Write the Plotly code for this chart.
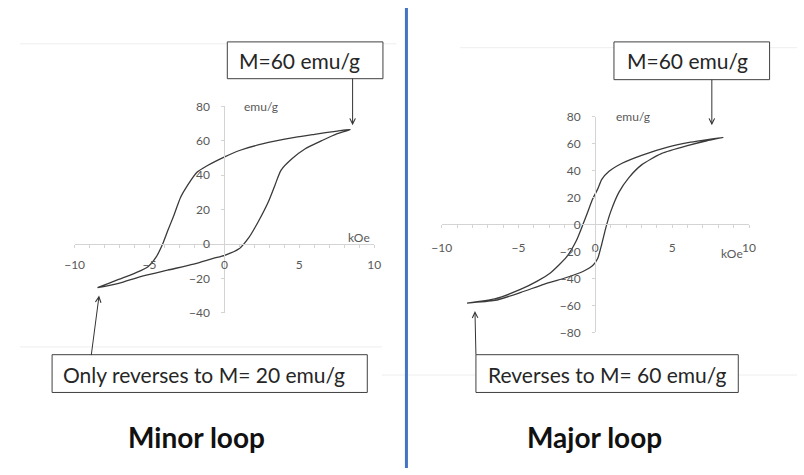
import plotly.graph_objects as go

W, H = 804, 475

# ---- data (H in kOe, M in emu/g) ----
# Minor loop: descending branch (+H_max -> -H_min), then ascending branch back
minor_desc_H = [8.41, 7.54, 6.02, 4.70, 2.53, 1.01, 0.02, -1.18, -1.83, -2.48, -2.92, -3.36, -3.79, -4.12, -4.55, -5.10, -5.97, -7.06, -8.47]
minor_desc_M = [66.6, 65.7, 63.8, 62.0, 58.2, 54.4, 50.7, 45.4, 41.7, 33.8, 27.2, 16.9, 7.5, 0.0, -7.5, -13.2, -16.9, -20.6, -25.4]
minor_asc_H = [-8.47, -7.06, -5.54, -3.79, -2.05, -0.74, 0.02, 0.98, 1.63, 2.27, 2.93, 3.36, 3.79, 4.53, 5.40, 6.50, 7.54, 8.41]
minor_asc_M = [-25.4, -22.9, -18.8, -15.2, -11.7, -8.4, -6.6, -2.8, 3.7, 13.1, 24.4, 33.8, 43.0, 49.7, 55.4, 60.1, 64.2, 66.6]

# Major loop
major_desc_H = [8.32, 6.20, 4.71, 3.01, 1.74, 0.89, 0.42, 0.15, -0.17, -0.49, -0.81, -1.24, -1.87, -2.93, -3.78, -4.84, -6.54, -8.35]
major_desc_M = [64.7, 61.1, 57.5, 51.4, 45.5, 39.5, 33.5, 26.3, 19.1, 9.6, 0.0, -12.0, -24.0, -35.9, -41.9, -47.9, -55.1, -58.2]
major_asc_H = [-8.35, -6.54, -4.84, -3.36, -2.08, -0.81, -0.17, 0.15, 0.42, 0.68, 1.00, 1.53, 2.17, 3.01, 4.29, 5.99, 7.26, 8.32]
major_asc_M = [-58.2, -56.3, -50.3, -44.3, -40.0, -34.8, -30.4, -25.2, -14.4, -2.4, 9.6, 23.9, 34.7, 44.3, 52.7, 58.6, 62.2, 64.7]

minor_y_ticks = [-40, -20, 0, 20, 40, 60, 80]
major_y_ticks = [-80, -60, -40, -20, 0, 20, 40, 60, 80]
x_ticks = [-10, -5, 0, 5, 10]

FONT = "Lato"
LINE = "#3a3a3a"
AXC = "#d4d4d4"
TXT = "#595959"


def px(x):
    return x / W


def py(y):
    return 1 - y / H


fig = go.Figure()
fig.add_trace(go.Scatter(x=minor_desc_H + minor_asc_H, y=minor_desc_M + minor_asc_M,
                         mode="lines", line=dict(color=LINE, width=1.3, shape="spline", smoothing=0.7),
                         xaxis="x", yaxis="y", hoverinfo="skip"))
fig.add_trace(go.Scatter(x=major_desc_H + major_asc_H, y=major_desc_M + major_asc_M,
                         mode="lines", line=dict(color=LINE, width=1.3, shape="spline", smoothing=0.6),
                         xaxis="x2", yaxis="y2", hoverinfo="skip"))

common = dict(showgrid=False, zeroline=False, showline=True, linecolor=AXC, linewidth=1,
              ticks="outside", ticklen=3, tickcolor=AXC,
              tickfont=dict(family=FONT, size=12, color=TXT), fixedrange=True)

fig.update_layout(
    width=W, height=H,
    margin=dict(l=0, r=0, t=0, b=0),
    paper_bgcolor="white", plot_bgcolor="rgba(0,0,0,0)",
    showlegend=False,
    font=dict(family=FONT),
    xaxis=dict(domain=[px(66), px(372)], range=[-10, 10], anchor="free",
               position=py(243.7), tickvals=x_ticks, ticklabelstandoff=7,
               minor=dict(dtick=1, ticks="outside", ticklen=3, tickcolor=AXC), **common),
    yaxis=dict(domain=[py(314.7), py(101.7)], range=[-40, 80], anchor="free",
               position=px(219), tickvals=minor_y_ticks, ticklabelstandoff=9, **common),
    xaxis2=dict(domain=[px(441), px(755)], range=[-10, 10], anchor="free",
                position=py(223.3), tickvals=x_ticks, ticklabelstandoff=9,
                minor=dict(dtick=1, ticks="outside", ticklen=3, tickcolor=AXC), **common),
    yaxis2=dict(domain=[py(335), py(112.3)], range=[-80, 80], anchor="free",
                position=px(597.7), tickvals=major_y_ticks, ticklabelstandoff=9, **common),
)

shapes = []
# faint slide guide lines
for (x0, y0, x1, y1) in [(10, 37, 395, 37), (460, 41, 804, 41), (10, 350, 380, 350), (380, 379, 804, 379)]:
    shapes.append(dict(type="line", xref="paper", yref="paper", x0=px(x0), x1=px(x1), y0=py(y0), y1=py(y1),
                       line=dict(color="#eeeeee", width=1), layer="below"))
# blue divider
shapes.append(dict(type="line", xref="paper", yref="paper", x0=px(405), x1=px(405), y0=0, y1=1,
                   line=dict(color="#4472C4", width=3)))
# text boxes
boxes = [(222, 35, 381, 73), (617, 35, 776, 74), (43, 358, 365, 397), (476, 358, 744, 397)]
for (x0, y0, x1, y1) in boxes:
    shapes.append(dict(type="rect", xref="paper", yref="paper", x0=px(x0), x1=px(x1), y0=py(y1), y1=py(y0),
                       line=dict(color="#404040", width=1), fillcolor="white"))
fig.update_layout(shapes=shapes)

ann = []
box_texts = [("M=60 emu/g", 232, 54), ("M=60 emu/g", 628, 54),
             ("Only reverses to M= 20 emu/g", 52, 378), ("Reverses to M= 60 emu/g", 486, 378)]
for t, x, y in box_texts:
    ann.append(dict(text=t, xref="paper", yref="paper", x=px(x), y=py(y), xanchor="left", yanchor="middle",
                    showarrow=False, font=dict(family=FONT, size=21, color="#262626")))
# arrows (tip, tail offset)
for (tx, ty, ax, ay) in [(350, 121, 0, -48), (717, 121, 0, -47), (91, 297, -8, 61), (475, 313, 1, 45)]:
    ann.append(dict(text="", xref="paper", yref="paper", x=px(tx), y=py(ty), ax=ax, ay=ay,
                    showarrow=True, arrowhead=5, arrowsize=1.1, arrowwidth=1, arrowcolor="#333333"))
# axis unit labels
for t, x, y in [("emu/g", 256, 102), ("emu/g", 636, 112), ("kOe", 357, 237), ("kOe", 738, 253)]:
    ann.append(dict(text=t, xref="paper", yref="paper", x=px(x), y=py(y), xanchor="center", yanchor="middle",
                    showarrow=False, font=dict(family=FONT, size=12, color=TXT)))
# titles
for t, x in [("Minor loop", 191), ("Major loop", 597)]:
    ann.append(dict(text="<b>" + t + "</b>", xref="paper", yref="paper", x=px(x), y=py(443),
                    xanchor="center", yanchor="middle", showarrow=False,
                    font=dict(family=FONT, size=28, color="#111111")))
fig.update_layout(annotations=ann)

fig.write_html("out.html",
               config={"displayModeBar": False, "staticPlot": False},
               post_script="document.body.style.margin='0';document.body.style.padding='0';"
                           "document.documentElement.style.overflow='hidden';")
